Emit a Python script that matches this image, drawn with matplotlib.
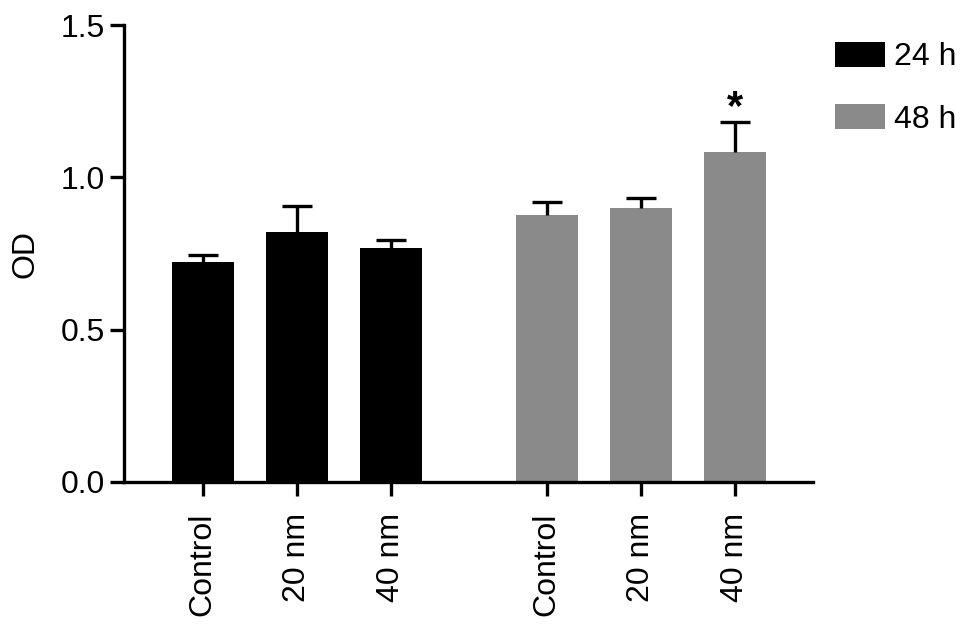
import matplotlib
matplotlib.use("Agg")
import matplotlib.pyplot as plt
import numpy as np

plt.rcParams['font.family'] = ['Liberation Sans', 'DejaVu Sans']

groups = ["24 h", "48 h"]
labels = ["Control", "20 nm", "40 nm"]
od_24h = [0.723, 0.821, 0.769]
err_24h = [0.022, 0.085, 0.025]
od_48h = [0.876, 0.899, 1.084]
err_48h = [0.043, 0.034, 0.098]
colors = ["#000000", "#8a8a8a"]

fig = plt.figure(figsize=(9.69, 6.3), dpi=100)
ax = fig.add_axes([0.128, 0.235, 0.711, 0.725])

x24 = np.arange(3)
x48 = np.arange(3) + 3.66
w = 0.66
cap = 0.32

for xs, vals, errs, c, g in [(x24, od_24h, err_24h, colors[0], groups[0]),
                             (x48, od_48h, err_48h, colors[1], groups[1])]:
    vals = np.array(vals)
    errs = np.array(errs)
    ax.bar(xs, vals, width=w, color=c, label=g, zorder=2)
    # upper error bars only
    ax.vlines(xs, vals, vals + errs, color='black', lw=2.4, zorder=3)
    ax.hlines(vals + errs, xs - cap / 2, xs + cap / 2, color='black', lw=2.4, zorder=3)

# significance mark
ax.text(x48[2], od_48h[2] + err_48h[2] + 0.045, "*", ha='center', va='center',
        fontsize=30, fontweight='bold')

ax.set_xlim(-0.835, 6.49)
ax.set_ylim(0, 1.5)
ax.set_yticks([0.0, 0.5, 1.0, 1.5])
ax.set_yticklabels(["0.0", "0.5", "1.0", "1.5"])
ax.set_xticks(np.concatenate([x24, x48]))
ax.set_xticklabels(labels + labels, rotation=90)
ax.set_ylabel("OD", fontsize=23, labelpad=14)

for s in ['top', 'right']:
    ax.spines[s].set_visible(False)
for s in ['left', 'bottom']:
    ax.spines[s].set_linewidth(2.4)
ax.tick_params(axis='both', width=2.4, labelsize=23)
ax.tick_params(axis='y', length=10, pad=4)
ax.tick_params(axis='x', length=10, pad=12)

ax.legend(loc='upper left', bbox_to_anchor=(1.0, 1.012), frameon=False,
          fontsize=23, handlelength=1.55, handleheight=0.8,
          labelspacing=1.0, handletextpad=0.3, borderaxespad=0.3)

fig.savefig("out.png", dpi=100)
